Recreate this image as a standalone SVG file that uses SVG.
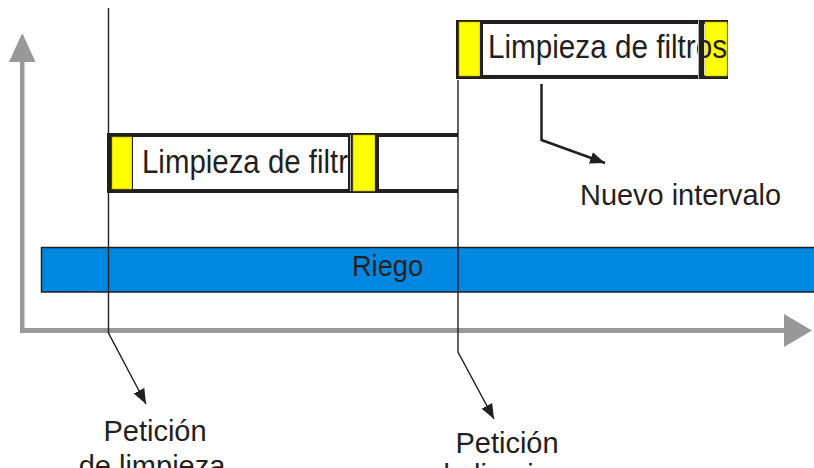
<svg xmlns="http://www.w3.org/2000/svg" width="814" height="468" viewBox="0 0 814 468">
<style>
.t{font-family:"Liberation Sans",Arial,sans-serif;fill:#231f20}
.ln{stroke:#231f20;fill:none}
.yl{fill:#ffff00;stroke:#a8a800;stroke-width:0.6}
.dk{fill:#231f20}
.ax{fill:#999999}
</style>
<defs>
<marker id="ah" markerUnits="userSpaceOnUse" markerWidth="15" markerHeight="12" refX="15" refY="6" orient="auto">
<path d="M0,0 L15,6 L0,12 z" fill="#231f20"/>
</marker>
</defs>
<rect width="814" height="468" fill="#ffffff"/>

<g id="axes">
<rect class="ax" x="20" y="60" width="4.5" height="273"/>
<polygon class="ax" points="22.3,33 9,62 35.5,62"/>
<rect class="ax" x="20" y="328" width="766" height="5"/>
<polygon class="ax" points="784,314 812,330.5 784,347"/>
</g>

<g id="riego">
<rect x="41.5" y="247.5" width="775" height="44.5" fill="#0088e0" stroke="#231f20" stroke-width="1.5"/>
<text class="t" x="352" y="276" font-size="30" textLength="71" lengthAdjust="spacingAndGlyphs">Riego</text>
</g>

<g id="limpieza1">
<rect x="109" y="135" width="349" height="56" fill="#ffffff"/>
<rect class="dk" x="107" y="133" width="351" height="4"/>
<rect class="dk" x="107" y="189" width="351" height="4"/>
<rect class="dk" x="107" y="133" width="5" height="60"/>
<rect class="yl" x="112" y="137" width="20" height="52"/>
<rect class="dk" x="132" y="137" width="1" height="52"/>
<text class="t" x="142" y="173" font-size="34" textLength="206" lengthAdjust="spacingAndGlyphs">Limpieza de filtr</text>
<rect class="dk" x="348" y="133" width="5" height="60"/>
<rect x="350" y="135" width="0.8" height="56" fill="#dddddd"/>
<rect class="yl" x="353" y="135" width="22" height="56"/>
<rect class="dk" x="375" y="133" width="4" height="60"/>
</g>

<g id="limpieza2">
<rect x="456.5" y="20.5" width="271" height="58" fill="#ffffff" stroke="#666666" stroke-width="1"/>
<rect class="dk" x="456" y="20" width="272" height="4"/>
<rect class="dk" x="456" y="75" width="272" height="4"/>
<rect class="dk" x="456" y="20" width="4" height="59"/>
<rect class="yl" x="459" y="22" width="21" height="54"/>
<rect class="dk" x="480" y="20" width="3" height="59"/>
<rect class="yl" x="705" y="22" width="22" height="54"/>
<text class="t" x="488" y="58" font-size="34" textLength="239" lengthAdjust="spacingAndGlyphs">Limpieza de filtros</text>
<rect class="dk" x="698" y="20" width="6" height="59"/>
<rect x="698" y="20" width="0.8" height="59" fill="#dddddd"/>
</g>

<g id="connectors">
<polyline class="ln" stroke-width="1.4" points="108.5,8 108.5,333 146,404" marker-end="url(#ah)"/>
<polyline class="ln" stroke-width="1.4" points="458,80 458,352 494,419" marker-end="url(#ah)"/>
<polyline class="ln" stroke-width="2.5" points="541.5,84 541.5,140 605,163" marker-end="url(#ah)"/>
</g>

<g id="labels">
<text class="t" x="155" y="441" font-size="29" text-anchor="middle">Petición</text>
<text class="t" x="152" y="476" font-size="29" text-anchor="middle">de limpieza</text>
<text class="t" x="507" y="453" font-size="29" text-anchor="middle">Petición</text>
<text class="t" x="507" y="485" font-size="29" text-anchor="middle">de limpieza</text>
<text class="t" x="580" y="205" font-size="29" textLength="201" lengthAdjust="spacingAndGlyphs">Nuevo intervalo</text>
</g>
</svg>
